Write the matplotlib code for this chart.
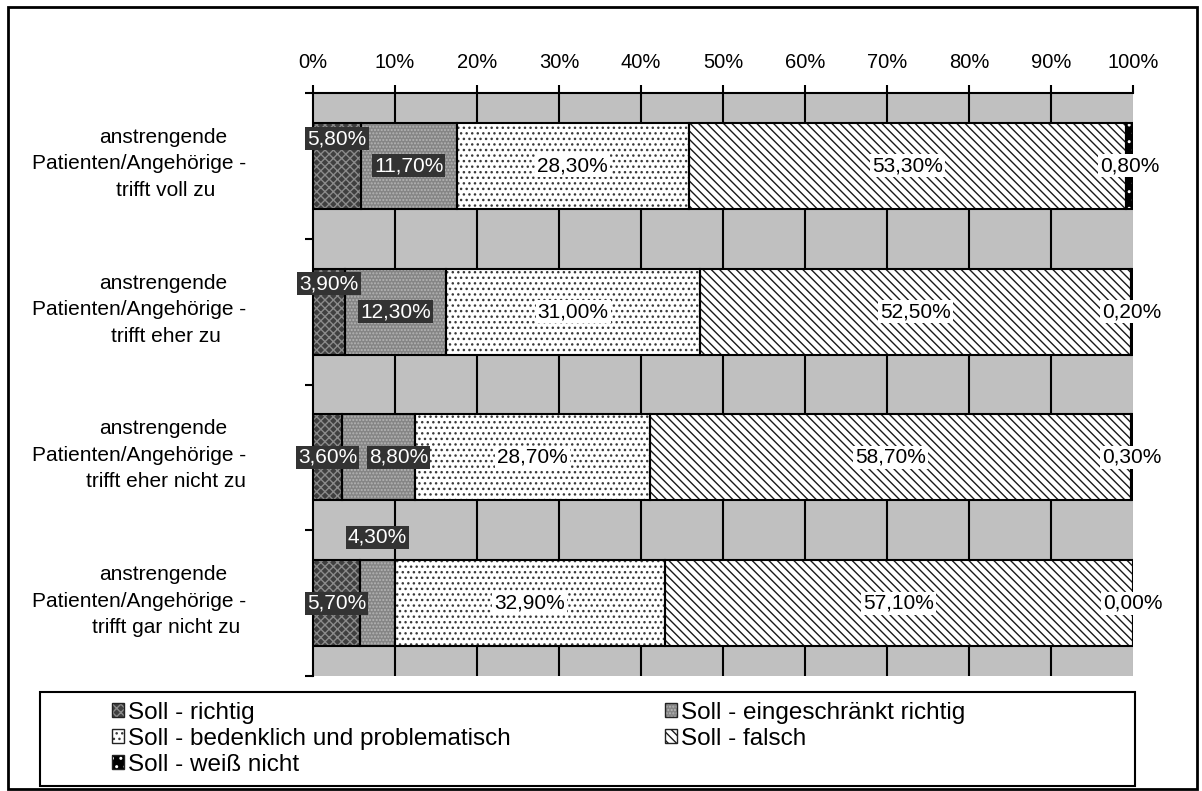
import matplotlib
matplotlib.use("Agg")
import matplotlib.pyplot as plt
import matplotlib.patches as mpatches
from matplotlib.legend_handler import HandlerTuple
from matplotlib.ticker import PercentFormatter, FixedLocator, NullLocator
import matplotlib.transforms as mtransforms

plt.rcParams['font.family'] = ['Liberation Sans', 'DejaVu Sans']
plt.rcParams['hatch.linewidth'] = 1.0

# ---------------- data ----------------
categories = [
    "anstrengende\nPatienten/Angehörige -\ntrifft voll zu",
    "anstrengende\nPatienten/Angehörige -\ntrifft eher zu",
    "anstrengende\nPatienten/Angehörige -\ntrifft eher nicht zu",
    "anstrengende\nPatienten/Angehörige -\ntrifft gar nicht zu",
]
series_names = [
    "Soll - richtig",
    "Soll - eingeschränkt richtig",
    "Soll - bedenklich und problematisch",
    "Soll - falsch",
    "Soll - weiß nicht",
]
soll_richtig = [5.8, 3.9, 3.6, 5.7]
soll_eingeschraenkt = [11.7, 12.3, 8.8, 4.3]
soll_bedenklich = [28.3, 31.0, 28.7, 32.9]
soll_falsch = [53.3, 52.5, 58.7, 57.1]
soll_weiss_nicht = [0.8, 0.2, 0.3, 0.0]
x_ticks = [0, 10, 20, 30, 40, 50, 60, 70, 80, 90, 100]

series_values = [soll_richtig, soll_eingeschraenkt, soll_bedenklich,
                 soll_falsch, soll_weiss_nicht]

# ---------------- styles ----------------
face_colors = ['#3f3f3f', '#858585', '#ffffff', '#ffffff', '#000000']
hatch_colors = ['#8a8a8a', '#b5b5b5', '#3a3a3a', '#1a1a1a', '#ffffff']
hatches = ['xxxx', '.....', '...', '\\\\\\\\', '..']
label_dark = [True, True, False, False, False]
# label nudges in pixels (dx, dy) keyed by (series, category), emulating Excel overlap avoidance
label_nudge = {(0, 0): (0, -27), (0, 1): (0, -28), (1, 2): (20, 0), (1, 3): (0, -66)}

FS = 15
W, H = 1202, 791
fig = plt.figure(figsize=(W / 100, H / 100), dpi=100)
L, R, T, B = 313, 1133, 93, 676
ax = fig.add_axes([L / W, 1 - B / H, (R - L) / W, (B - T) / H])
ax.set_facecolor('#c0c0c0')

n = len(categories)
ypos = list(range(n))
totals = [sum(s[i] for s in series_values) for i in range(n)]
bar_h = 0.59

lefts = [0.0] * n
for si, vals in enumerate(series_values):
    fr = [vals[i] / totals[i] * 100 for i in range(n)]
    ax.barh(ypos, fr, left=lefts, height=bar_h, color=face_colors[si],
            hatch=hatches[si], edgecolor=hatch_colors[si], linewidth=0, zorder=2)
    ax.barh(ypos, fr, left=lefts, height=bar_h, fill=False,
            edgecolor='black', linewidth=1.5, zorder=3)
    for i in range(n):
        cx = lefts[i] + fr[i] / 2
        dx, dy = label_nudge.get((si, i), (0, 0))
        txt = f"{vals[i]:.2f}%".replace('.', ',')
        if label_dark[si]:
            bb = dict(boxstyle='square,pad=0.1', fc='#333333', ec='none')
            col = 'white'
        else:
            bb = dict(boxstyle='square,pad=0.1', fc='white', ec='none')
            col = 'black'
        ax.annotate(txt, (cx, ypos[i]), xytext=(dx * 0.72, -dy * 0.72),
                    textcoords='offset points', ha='center', va='center',
                    fontsize=FS, color=col, bbox=bb, zorder=5)
    lefts = [lefts[i] + fr[i] for i in range(n)]

ax.set_xlim(0, 100)
ax.set_ylim(n - 0.5, -0.5)

# x axis on top
ax.xaxis.tick_top()
ax.xaxis.set_major_locator(FixedLocator(x_ticks))
ax.xaxis.set_major_formatter(PercentFormatter(decimals=0))
ax.tick_params(axis='x', which='major', direction='out', length=6, width=1.5,
               pad=9, labelsize=FS - 0.5, colors='black')
ax.grid(axis='x', color='black', linewidth=1.5, zorder=1)
ax.set_axisbelow(True)
gl = ax.xaxis.get_gridlines()
gl[0].set_visible(False)
gl[-1].set_color('#a0a0a0')
gl[-1].set_linewidth(0.8)

# y axis: tick marks at category boundaries
ax.yaxis.set_major_locator(NullLocator())
ax.yaxis.set_minor_locator(FixedLocator([i - 0.5 for i in range(n + 1)]))
ax.tick_params(axis='y', which='minor', direction='out', length=6, width=1.5,
               labelleft=False)

for s in ['right', 'bottom']:
    ax.spines[s].set_visible(False)
for s in ['top', 'left']:
    ax.spines[s].set_linewidth(1.5)
    ax.spines[s].set_zorder(4)

# category labels (line by line, as in the Excel rendering)
line_x = [163, 139, 166]
trans = mtransforms.blended_transform_factory(fig.transFigure, ax.transData)
for i, cat in enumerate(categories):
    lines = cat.split('\n')
    for li, ln in enumerate(lines):
        off = mtransforms.offset_copy(trans, fig=fig, x=0,
                                      y=-(li - 1) * 26.5 * 0.72 + 2 * 0.72,
                                      units='points')
        ax.text(line_x[li] / W, ypos[i], ln, transform=off, ha='center',
                va='center', fontsize=FS)

# legend
handles = []
for si in range(len(series_names)):
    hp = mpatches.Patch(facecolor=face_colors[si], hatch=hatches[si],
                        edgecolor=hatch_colors[si], linewidth=0)
    bp = mpatches.Patch(fill=False, edgecolor='#222222', linewidth=1.0)
    handles.append((hp, bp))
order = [0, 2, 4, 1, 3]
LFS = 17.5
leg = fig.legend([handles[k] for k in order], [series_names[k] for k in order],
                 handler_map={tuple: HandlerTuple(ndivide=1, pad=0)},
                 loc='upper left', bbox_to_anchor=(112 / W, 1 - 702 / H),
                 ncol=2, frameon=False, fontsize=LFS, handlelength=0.5,
                 handleheight=0.5, handletextpad=0.15, labelspacing=0.165,
                 columnspacing=6.35, borderpad=0, borderaxespad=0)

# legend box and outer border
fig.add_artist(mpatches.Rectangle((40 / W, 1 - 786 / H), (1135 - 40) / W,
                                  (786 - 692) / H, transform=fig.transFigure,
                                  fill=False, edgecolor='black', linewidth=1.5))
fig.add_artist(mpatches.Rectangle((8 / W, 1 - 789 / H), (1197 - 8) / W,
                                  (789 - 7) / H, transform=fig.transFigure,
                                  fill=False, edgecolor='black', linewidth=2))

fig.savefig('out.png', dpi=100)
